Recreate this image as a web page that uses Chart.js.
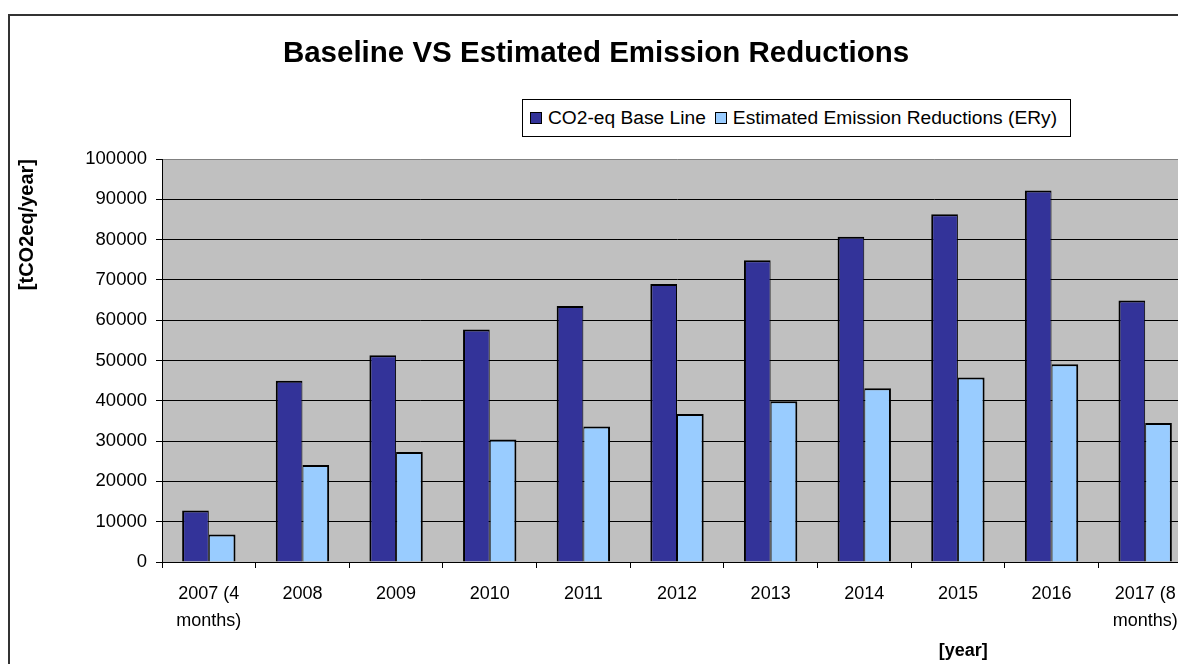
<!DOCTYPE html>
<html>
<head>
<meta charset="utf-8">
<script src="https://cdn.jsdelivr.net/npm/chart.js@4.4.1/dist/chart.umd.min.js"></script>
<style>
  html, body { margin: 0; padding: 0; background: #fff; overflow: hidden; }
  body { width: 1178px; height: 664px; position: relative; }
  #frame {
    position: absolute; left: 8px; top: 14px; width: 1300px; height: 800px;
    border: 2px solid #333; box-sizing: border-box;
  }
  #wrap { position: absolute; left: 0; top: 0; width: 1192px; height: 664px; }
  #legend {
    position: absolute; left: 522px; top: 99px; width: 549px; height: 38px;
    box-sizing: border-box; border: 1px solid #000; background: #fff;
    display: flex; align-items: center; padding-left: 7px;
    font-family: "Liberation Sans", Arial, sans-serif; font-size: 19.2px; color: #000;
    white-space: nowrap;
  }
  #legend .item { display: flex; align-items: center; margin-right: 9px; }
  #legend .sw { width: 10px; height: 10px; border: 1px solid #000; margin-right: 6px; }
</style>
</head>
<body>
<div id="frame"></div>
<div id="wrap"><canvas id="c"></canvas></div>
<div id="legend"></div>
<script>
// Categories (years) and annual values in tCO2eq
const categories = [
  ['2007 (4', 'months)'], '2008', '2009', '2010', '2011', '2012',
  '2013', '2014', '2015', '2016', ['2017 (8', 'months)']
];
const baseline = [12750, 45000, 51300, 57700, 63500, 69000, 74900, 80700, 86300, 92200, 64900];
const reductions = [6850, 24100, 27300, 30400, 33600, 36700, 39900, 43100, 45800, 49100, 34500];
const yTicks = [0, 10000, 20000, 30000, 40000, 50000, 60000, 70000, 80000, 90000, 100000];
const seriesNames = ['CO2-eq Base Line', 'Estimated Emission Reductions (ERy)'];

const FONT = '"Liberation Sans", Arial, sans-serif';

// grey plot background
const plotBackground = {
  id: 'plotBackground',
  beforeDraw(chart) {
    const { ctx, chartArea: a } = chart;
    ctx.save();
    ctx.fillStyle = '#C0C0C0';
    ctx.fillRect(a.left, a.top, a.right - a.left, a.bottom - a.top);
    ctx.restore();
  }
};

// "[year]" caption placed toward the right under the category labels
const yearCaption = {
  id: 'yearCaption',
  afterDraw(chart) {
    const { ctx, chartArea: a } = chart;
    ctx.save();
    ctx.font = 'bold 18px ' + FONT;
    ctx.fillStyle = '#000';
    ctx.textAlign = 'center';
    ctx.textBaseline = 'middle';
    ctx.fillText('[year]', a.left + 0.778 * (a.right - a.left), a.bottom + 89);
    ctx.restore();
  }
};

const chart = new Chart(document.getElementById('c'), {
  type: 'bar',
  data: {
    labels: categories,
    datasets: [
      {
        label: seriesNames[0],
        data: baseline,
        backgroundColor: '#333399',
        borderColor: '#000',
        borderWidth: { top: 2, left: 2, right: 1, bottom: 0 }
      },
      {
        label: seriesNames[1],
        data: reductions,
        backgroundColor: '#99CCFF',
        borderColor: '#000',
        borderWidth: { top: 2, left: 1, right: 2, bottom: 0 }
      }
    ]
  },
  options: {
    responsive: true,
    maintainAspectRatio: false,
    animation: false,
    events: [],
    layout: { padding: { left: 0, right: 0, top: 14, bottom: 0 } },
    datasets: { bar: { categoryPercentage: 0.57, barPercentage: 1.0 } },
    plugins: {
      legend: { display: false },
      tooltip: { enabled: false },
      title: {
        display: true,
        text: 'Baseline VS Estimated Emission Reductions',
        color: '#000',
        font: { family: FONT, size: 29.5, weight: 'bold', lineHeight: 1.2 },
        padding: { top: 22, bottom: 87.6 }
      }
    },
    scales: {
      x: {
        offset: true,
        afterFit(s) { s.height = 102; },
        grid: {
          offset: true,
          drawOnChartArea: false,
          drawTicks: true,
          tickLength: 6,
          color: '#000',
          tickColor: '#000'
        },
        border: { display: true, color: '#000', width: 1 },
        ticks: {
          color: '#000',
          font: { family: FONT, size: 18, lineHeight: 1.5 },
          padding: 13,
          maxRotation: 0,
          minRotation: 0,
          autoSkip: false
        }
      },
      y: {
        min: 0,
        max: 100000,
        afterFit(s) { s.width = 162; },
        afterBuildTicks(s) { s.ticks = yTicks.map(v => ({ value: v })); },
        grid: {
          color: c => (c.tick && c.tick.value === 100000 ? '#808080' : '#000'),
          lineWidth: 1,
          drawTicks: true,
          tickLength: 6,
          tickColor: '#000'
        },
        border: { display: true, color: '#000', width: 1 },
        ticks: {
          color: '#000',
          font: { family: FONT, size: 18.5 },
          padding: 9,
          callback: v => String(v)
        },
        title: {
          display: true,
          text: '[tCO2eq/year]',
          align: 'end',
          color: '#000',
          font: { family: FONT, size: 20, weight: 'bold', lineHeight: 1.2 },
          padding: { top: 15, bottom: 0 }
        }
      }
    }
  },
  plugins: [plotBackground, yearCaption]
});

// legend row built from the dataset names and colours
const legend = document.getElementById('legend');
chart.data.datasets.forEach(ds => {
  const item = document.createElement('div');
  item.className = 'item';
  const sw = document.createElement('div');
  sw.className = 'sw';
  sw.style.background = ds.backgroundColor;
  const txt = document.createElement('span');
  txt.textContent = ds.label;
  item.appendChild(sw);
  item.appendChild(txt);
  legend.appendChild(item);
});
</script>
</body>
</html>
